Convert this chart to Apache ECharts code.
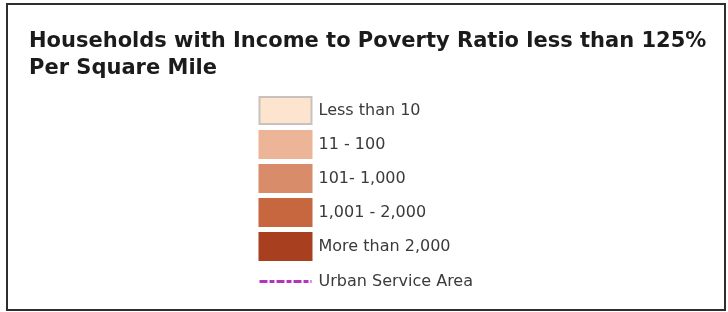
<!DOCTYPE html>
<html>
<head>
<meta charset="utf-8">
<script src="https://cdn.jsdelivr.net/npm/echarts@6/dist/echarts.min.js"></script>
<style>
  html, body { margin: 0; padding: 0; background: #fff; }
  #chart { position: absolute; left: 0; top: 0; width: 728px; height: 312px; }
  .frame {
    position: absolute; left: 6px; top: 3px; width: 716px; height: 304px;
    border: 2px solid #2e2e2e; pointer-events: none;
  }
</style>
</head>
<body>
<div id="chart"></div>
<div class="frame"></div>
<script>
// legend classes (density per square mile)
const titleLines = ['Households with Income to Poverty Ratio less than 125%', 'Per Square Mile']
const classNames = ['Less than 10', '11 - 100', '101- 1,000', '1,001 - 2,000', 'More than 2,000']
const classColors = ['#fde4cf', '#ecb597', '#d98c69', '#c6673f', '#a83f1f']
const boundaryName = 'Urban Service Area'
const boundaryColor = '#b832c0'

const chart = echarts.init(document.getElementById('chart'))

const series = classNames.map((name, i) => ({
  name: name,
  type: 'bar',
  data: [],
  itemStyle: {
    color: classColors[i],
    borderColor: i === 0 ? '#c9c2bc' : classColors[i],
    borderWidth: 1
  }
}))

const boundaryLine = { color: boundaryColor, width: 3, type: [8, 2, 5, 2], opacity: 1 }

series.push({
  name: boundaryName,
  type: 'line',
  data: [],
  symbol: 'none',
  showSymbol: false,
  itemStyle: { color: boundaryColor, opacity: 0 },
  lineStyle: boundaryLine
})

const option = {
  animation: false,
  title: {
    text: titleLines.join('\n'),
    left: 24,
    top: 23,
    textStyle: {
      fontFamily: 'DejaVu Sans',
      fontSize: 21,
      fontWeight: 'bold',
      color: '#1b1b1b',
      lineHeight: 27
    }
  },
  legend: {
    orient: 'vertical',
    left: 253,
    top: 91,
    itemWidth: 52,
    itemHeight: 27,
    itemGap: 5,
    data: classNames.map(n => ({ name: n, icon: 'rect' })).concat([{
      name: boundaryName,
      lineStyle: boundaryLine,
      textStyle: { lineHeight: 31 }
    }]),
    textStyle: {
      fontFamily: 'DejaVu Sans',
      fontSize: 16,
      color: '#3a3a3a',
      padding: [0, 0, 0, 2]
    }
  },
  grid: { show: false, left: 100, right: 100, top: 100, bottom: 100 },
  xAxis: { type: 'category', show: false, data: ['a'] },
  yAxis: { type: 'value', show: false },
  series: series
}

chart.setOption(option)
</script>
</body>
</html>
